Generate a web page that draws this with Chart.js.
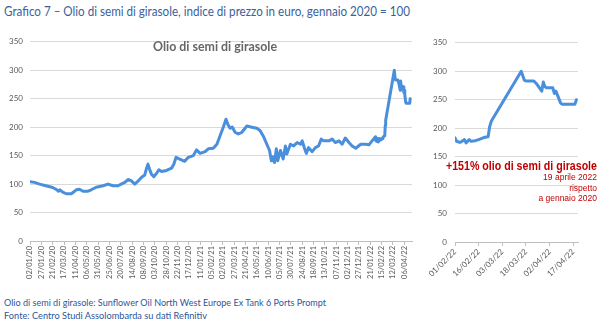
<!DOCTYPE html>
<html>
<head>
<meta charset="utf-8">
<script src="https://cdn.jsdelivr.net/npm/chart.js@4.4.0/dist/chart.umd.min.js"></script>
<style>
  body { margin:0; background:#fff; width:600px; height:325px; position:relative; overflow:hidden; font-family:Lato, "Open Sans", sans-serif; }
  .txt { position:absolute; white-space:nowrap; transform-origin:left top; }
  #title { left:4px; top:2px; font-size:14px; color:#3a5f9c; }
  #inner { left:153px; top:38px; font-size:13px; color:#666666; font-weight:bold; }
  #big { left:446px; top:159px; font-family:"Liberation Sans", Arial, sans-serif; font-size:12px; font-weight:bold; color:#c00000; }
  #small { right:3px; top:172px; font-family:"Liberation Sans", Arial, sans-serif; font-size:8.5px; line-height:10.5px; color:#c00000; text-align:right; }
  .foot { left:4px; font-size:10px; color:#2f5597; }
  #cLeft { position:absolute; left:0; top:30px; }
  #cRight { position:absolute; left:420px; top:30px; }
</style>
</head>
<body>
<div id="title" class="txt" data-w="406">Grafico 7 – Olio di semi di girasole, indice di prezzo in euro, gennaio 2020 = 100</div>
<canvas id="cLeft" width="420" height="250"></canvas>
<canvas id="cRight" width="180" height="250"></canvas>
<div id="inner" class="txt" data-w="124">Olio di semi di girasole</div>
<div id="big" class="txt" data-w="151">+151% olio di semi di girasole</div>
<div id="small" class="txt">19 aprile 2022<br>rispetto<br>a gennaio 2020</div>
<div class="txt foot" style="top:296px" data-w="322">Olio di semi di girasole: Sunflower Oil North West Europe Ex Tank 6 Ports Prompt</div>
<div class="txt foot" style="top:309px" data-w="203">Fonte: Centro Studi Assolombarda su dati Refinitiv</div>
<script>
// serie 2020 - gennaio 2022
const dates2020 = [
  '02/01/20','12/01/20','23/01/20','06/02/20','21/02/20','01/03/20','05/03/20','08/03/20','14/03/20','22/03/20',
  '02/04/20','07/04/20','13/04/20','20/04/20','28/04/20','09/05/20','16/05/20','27/05/20','11/06/20','22/06/20',
  '03/07/20','14/07/20','21/07/20','29/07/20','05/08/20','12/08/20','20/08/20','27/08/20','04/09/20','11/09/20',
  '15/09/20','18/09/20','22/09/20','26/09/20','01/10/20','07/10/20','12/10/20','18/10/20','29/10/20','09/11/20',
  '14/11/20','19/11/20','27/11/20','08/12/20','16/12/20','27/12/20','03/01/21','11/01/21','22/01/21','29/01/21',
  '09/02/21','17/02/21','24/02/21','03/03/21','09/03/21','13/03/21','18/03/21','23/03/21','29/03/21','05/04/21',
  '13/04/21','20/04/21','24/04/21','05/05/21','16/05/21','23/05/21','31/05/21','07/06/21','13/06/21','17/06/21',
  '20/06/21','24/06/21','28/06/21','01/07/21','07/07/21','13/07/21','18/07/21','21/07/21','29/07/21','05/08/21',
  '13/08/21','20/08/21','24/08/21','29/08/21','02/09/21','07/09/21','15/09/21','22/09/21','29/09/21','05/10/21',
  '10/10/21','22/10/21','29/10/21','05/11/21','13/11/21','20/11/21','27/11/21','05/12/21','12/12/21','20/12/21',
  '31/12/21','11/01/22','18/01/22','25/01/22'
];
const values2020 = [
  104, 103, 100, 97, 94, 90, 87.5, 90, 86, 83,
  83, 86, 90, 91, 87.5, 87.5, 90, 94.5, 97, 100,
  97, 97, 100, 103, 108, 106, 100, 105, 112, 116,
  128, 135, 125, 117, 113, 119, 125, 122, 124, 128,
  135, 147, 144, 140, 147, 150, 160, 154, 157, 162,
  163, 170, 185, 200, 214, 205, 198, 200, 191, 188,
  191, 198, 202, 200, 198, 194, 183, 170, 159, 141,
  148, 138, 162, 141, 159, 144, 167, 153, 170, 167,
  173, 170, 176, 163, 154, 164, 157, 164, 167, 179,
  176, 176, 179, 173, 176, 170, 181, 173, 167, 163,
  170, 170, 169, 176
];
// serie febbraio - aprile 2022 (riquadro di destra)
const dates2022 = [
  '01/02/22','02/02/22','04/02/22','05/02/22','07/02/22','08/02/22','10/02/22','11/02/22','14/02/22','16/02/22',
  '18/02/22','20/02/22','22/02/22','23/02/22','24/02/22','15/03/22','17/03/22','18/03/22','23/03/22','25/03/22',
  '26/03/22','28/03/22','29/03/22','30/03/22','31/03/22','04/04/22','05/04/22','06/04/22','07/04/22','09/04/22',
  '10/04/22','18/04/22','19/04/22'
];
const values2022 = [
  183, 177, 175, 176, 180, 174, 180, 177, 178, 180,
  182, 184, 185, 203, 212, 300, 284, 283, 283, 277,
  273, 265, 281, 273, 271, 271, 261, 265, 258, 244,
  242, 242, 250
];
const leftTickLabels = [
  '02/01/20','27/01/20','21/02/20','17/03/20','11/04/20','06/05/20','31/05/20','25/06/20','20/07/20','14/08/20',
  '08/09/20','03/10/20','28/10/20','22/11/20','17/12/20','11/01/21','05/02/21','02/03/21','27/03/21','21/04/21',
  '16/05/21','10/06/21','05/07/21','30/07/21','24/08/21','18/09/21','13/10/21','07/11/21','02/12/21','27/12/21',
  '21/01/22','15/02/22','12/03/22','06/04/22'
];
const rightTickLabels = ['01/02/22','16/02/22','03/03/22','18/03/22','02/04/22','17/04/22'];

const T0 = Date.UTC(2020, 0, 2);
function toDay(s) {
  const p = s.split('/');
  return Math.round((Date.UTC(2000 + +p[2], +p[1] - 1, +p[0]) - T0) / 86400000);
}
function toLabel(d) {
  const dt = new Date(T0 + d * 86400000);
  const pad = n => String(n).padStart(2, '0');
  return pad(dt.getUTCDate()) + '/' + pad(dt.getUTCMonth() + 1) + '/' + String(dt.getUTCFullYear()).slice(2);
}

const allPoints = dates2020.concat(dates2022).map((d, i) => ({x: toDay(d), y: values2020.concat(values2022)[i]}));
const febPoints = dates2022.map((d, i) => ({x: toDay(d), y: values2022[i]}));

const lineColor = '#4a8fdc';
const tickColor = '#595959';
const gridColor = '#d9d9d9';

function makeChart(id, points, opts) {
  return new Chart(document.getElementById(id), {
    type: 'line',
    data: { datasets: [{ data: points, borderColor: lineColor, borderWidth: opts.lw, borderJoinStyle: 'round', borderCapStyle: 'round',
                         pointRadius: 0, tension: 0, fill: false }] },
    options: {
      responsive: false, animation: false,
      layout: { padding: { top: 11, right: opts.padRight, left: 0, bottom: 0 } },
      plugins: { legend: { display: false }, tooltip: { enabled: false } },
      scales: {
        x: {
          type: 'linear', min: opts.xmin, max: opts.xmax,
          afterBuildTicks: ax => { ax.ticks = opts.ticks.map(t => ({value: toDay(t)})); },
          afterFit: sc => { sc.height = opts.xh; },
          grid: { drawOnChartArea: false, drawTicks: true, tickLength: 4, color: '#bfbfbf' },
          border: { display: true, color: '#bfbfbf' },
          ticks: { autoSkip: false, minRotation: opts.rot, maxRotation: opts.rot, padding: 1, color: tickColor,
                   font: { size: opts.xfont, family: 'Lato' }, callback: v => toLabel(v) }
        },
        y: {
          min: 0, max: 350,
          afterFit: sc => { sc.width = opts.yw; },
          grid: { color: gridColor, drawTicks: false },
          border: { display: false },
          ticks: { stepSize: 50, padding: opts.ypad, color: tickColor, font: { size: 8, family: 'Lato' } }
        }
      }
    }
  });
}

makeChart('cLeft', allPoints, { xmin: 0, xmax: 842, ticks: leftTickLabels, rot: 90, padRight: 8, yw: 30, ypad: 7, xh: 39, lw: 3, xfont: 7.5 });
makeChart('cRight', febPoints, { xmin: 761, xmax: 839, ticks: rightTickLabels, rot: 45, padRight: 22, yw: 35, ypad: 8, xh: 38, lw: 3, xfont: 8 });

// adatta la larghezza dei testi a quella del riferimento
document.querySelectorAll('[data-w]').forEach(el => {
  const w = el.getBoundingClientRect().width;
  el.style.transform = 'scaleX(' + (+el.dataset.w / w) + ')';
});
</script>
</body>
</html>
